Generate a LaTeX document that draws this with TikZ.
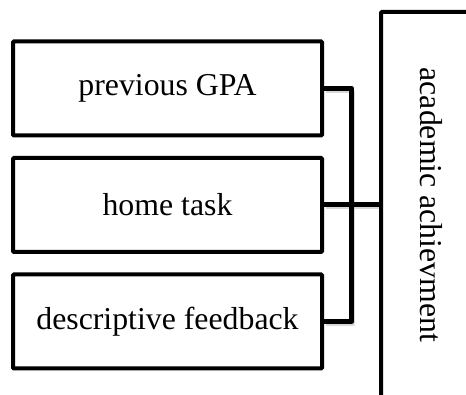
\documentclass[tikz,border=0pt]{standalone}
\usepackage{fontspec}
\setmainfont{Liberation Serif}
\begin{document}
\begin{tikzpicture}[x=1pt,y=-1pt,
  inbox/.style={draw=black, line width=4pt, rounded corners=1pt, minimum width=309pt,
    minimum height=94pt, inner sep=0pt, font=\fontsize{31.8}{36}\selectfont},
  outbox/.style={draw=black, line width=4pt, rounded corners=1pt, minimum width=400pt,
    minimum height=100pt, inner sep=0pt, rotate=-90, font=\fontsize{31.8}{36}\selectfont},
  link/.style={draw=black, line width=5pt, line join=round},
  linkshade/.style={draw=black!25, line width=3pt, opacity=0.6, line join=round}]
\useasboundingbox (0,0) rectangle (466,395);
\clip (0,0) rectangle (466,395);
\fill[white] (0,0) rectangle (466,395);

% input factors
\node[inbox] (gpa) at (167.5,88.5) {previous GPA};
\node[inbox] (ht)  at (167.5,205) {home task};
\node[inbox] (fb)  at (167.5,321.5) {descriptive feedback};

% outcome, running past the lower and right edges
\node[outbox] (ach) at (431,212) {\hspace*{-14pt}academic achievment};

% bracket joining the factors
\coordinate (bus) at (351.7,205);
\draw[linkshade] ([shift={(2,3)}]gpa.east) -| ([shift={(2,3)}]bus) |- ([shift={(2,3)}]fb.east);
\draw[linkshade] ([shift={(2,3)}]ht.east) -- ([shift={(0,3)}]ht.east -| ach.south);
\draw[link] (gpa.east) -| (bus) |- (fb.east);
\draw[link] (ht.east) -- (ht.east -| ach.south);
\end{tikzpicture}
\end{document}
